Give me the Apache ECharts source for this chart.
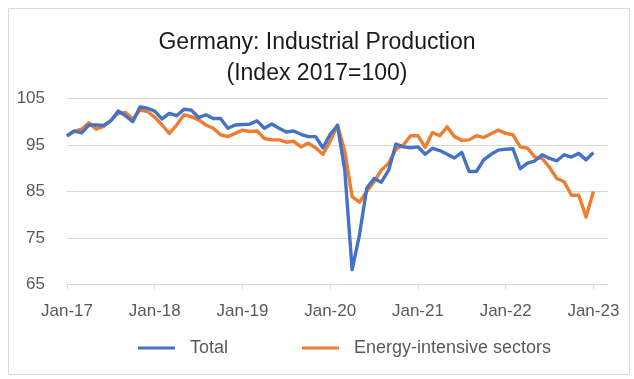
<!DOCTYPE html>
<html>
<head>
<meta charset="utf-8">
<script src="https://cdn.jsdelivr.net/npm/echarts@6/dist/echarts.min.js"></script>
<style>html,body{margin:0;padding:0;background:#fff}#c{width:634px;height:379px}</style>
</head>
<body>
<div id="c"></div>
<script>
// Month index 0 = Jan-17 ... 72 = Jan-23; axis runs to Mar-23
const years = ['17','18','19','20','21','22','23'];
const monthNames = ['Jan','Feb','Mar','Apr','May','Jun','Jul','Aug','Sep','Oct','Nov','Dec'];
const categories = [];
years.forEach(y => monthNames.forEach(m => categories.push(m + '-' + y)));
categories.length = 75; // Jan-17 .. Mar-23

const total = [
  97.0, 98.0, 97.6, 99.3, 99.3, 99.2, 100.2, 102.3, 101.3, 100.0, 103.2, 102.9,
  102.3, 100.6, 101.8, 101.3, 102.7, 102.5, 100.9, 101.5, 100.7, 100.7, 98.6, 99.3,
  99.4, 99.5, 100.2, 98.6, 99.5, 98.6, 97.8, 98.0, 97.3, 96.8, 96.8, 94.4,
  97.3, 99.2, 89.5, 68.2, 75.6, 85.7, 87.8, 87.0, 89.6, 95.2, 94.6, 94.4,
  94.6, 93.0, 94.3, 93.8, 93.0, 92.2, 93.4, 89.3, 89.3, 91.8, 93.0, 93.9,
  94.1, 94.2, 89.9, 91.1, 91.6, 92.9, 92.1, 91.6, 92.9, 92.4, 93.2, 91.8,
  93.4
];
const energyIntensive = [
  96.9, 98.0, 98.4, 99.8, 98.4, 99.0, 100.3, 101.8, 102.0, 100.6, 102.5, 102.2,
  101.0, 99.3, 97.5, 99.3, 101.5, 101.1, 100.4, 99.3, 98.6, 97.2, 96.8, 97.5,
  98.2, 97.9, 98.0, 96.4, 96.1, 96.1, 95.6, 95.8, 94.6, 95.4, 94.4, 93.0,
  95.8, 99.3, 93.6, 83.9, 82.7, 85.0, 87.1, 89.6, 91.1, 94.1, 95.0, 97.0,
  97.0, 94.5, 97.7, 97.0, 98.9, 96.8, 96.0, 96.1, 97.0, 96.6, 97.4, 98.2,
  97.5, 97.2, 94.6, 94.3, 92.4, 92.1, 90.2, 87.8, 87.1, 84.2, 84.2, 79.5,
  85.0
];
const yTicks = [65, 75, 85, 95, 105];

const chart = echarts.init(document.getElementById('c'), null, {renderer: 'canvas'});
const gray = '#595959';
chart.setOption({
  animation: false,
  backgroundColor: '#ffffff',
  graphic: [{
    type: 'rect', left: 6, top: 6, shape: {x: 0, y: 0, width: 621, height: 366},
    style: {fill: 'none', stroke: '#d9d9d9', lineWidth: 1}, silent: true
  }],
  title: {
    text: 'Germany: Industrial Production\n(Index 2017=100)',
    left: 'center', top: 27, padding: [0, 0, 0, 10],
    textStyle: {fontFamily: 'Liberation Sans', fontSize: 23, fontWeight: 'normal', color: '#1a1a1a', lineHeight: 31, align: 'center'}
  },
  legend: {
    data: ['Total', 'Energy-intensive sectors'],
    left: 133, top: 334, icon: 'rect', itemWidth: 37, itemHeight: 3, itemGap: 74,
    textStyle: {fontFamily: 'Liberation Sans', fontSize: 18, color: gray, padding: [0, 0, 0, 10]}
  },
  grid: {left: 67, right: 26, top: 98.5, bottom: 94.5, containLabel: false},
  xAxis: {
    type: 'category', data: categories, boundaryGap: false,
    axisLine: {lineStyle: {color: '#d9d9d9', width: 1}},
    axisTick: {show: true, interval: 11, length: 5, lineStyle: {color: '#d9d9d9'}},
    axisLabel: {interval: 11, margin: 18, fontFamily: 'Liberation Sans', fontSize: 17, color: gray},
    splitLine: {show: false}
  },
  yAxis: {
    type: 'value', min: yTicks[0], max: yTicks[yTicks.length - 1], interval: 10,
    axisLine: {show: false}, axisTick: {show: false},
    axisLabel: {margin: 22, fontFamily: 'Liberation Sans', fontSize: 17, color: gray},
    splitLine: {lineStyle: {color: '#d9d9d9', width: 1}}
  },
  series: [
    {name: 'Total', type: 'line', data: total, showSymbol: false, symbol: 'none',
     lineStyle: {color: '#4472C4', width: 3.4, join: 'round'}, itemStyle: {color: '#4472C4'}, z: 3},
    {name: 'Energy-intensive sectors', type: 'line', data: energyIntensive, showSymbol: false, symbol: 'none',
     lineStyle: {color: '#ED7D31', width: 3.4, join: 'round'}, itemStyle: {color: '#ED7D31'}, z: 2}
  ]
});
</script>
</body>
</html>
